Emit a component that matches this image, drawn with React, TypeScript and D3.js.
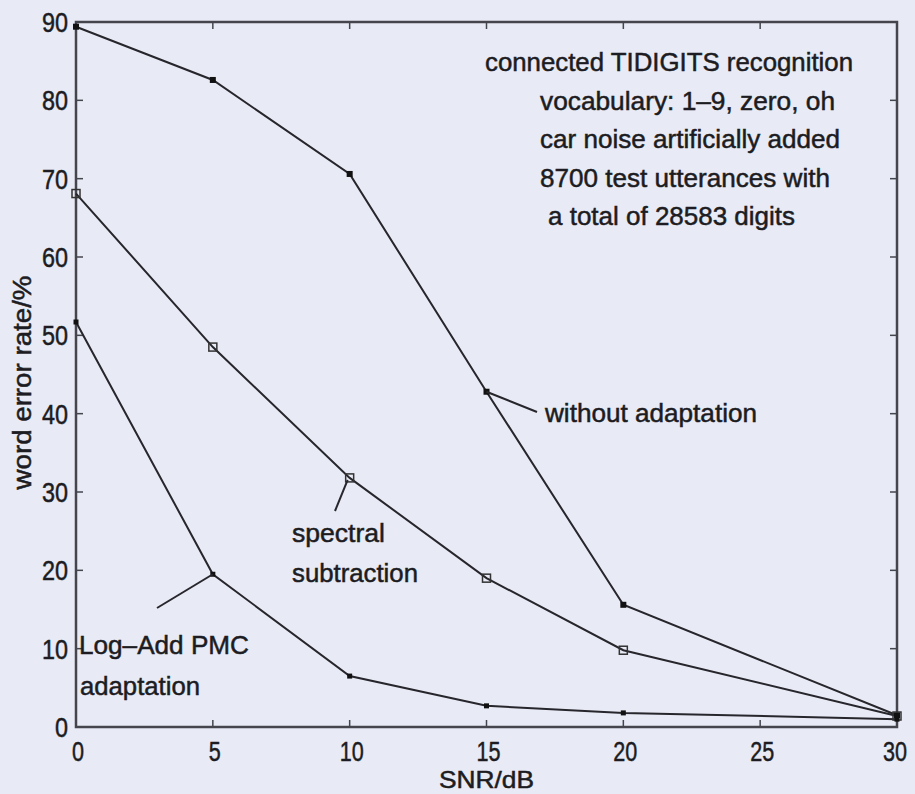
import React from 'react';
import * as d3 from 'd3';

// SNR levels (dB)
const snr = [0, 5, 10, 15, 20, 30];
// word error rate (%) per series
const withoutAdaptation = [89.4, 82.6, 70.6, 42.8, 15.6, 1.5];
const spectralSubtraction = [68.1, 48.5, 31.8, 19.0, 9.8, 1.4];
const logAddPMC = [51.7, 19.5, 6.5, 2.7, 1.8, 1.0];

const xTicks = [0, 5, 10, 15, 20, 25, 30];
const yTicks = [0, 10, 20, 30, 40, 50, 60, 70, 80, 90];

const infoLines = [
  'connected TIDIGITS recognition',
  'vocabulary: 1\u20139, zero, oh',
  'car noise artificially added',
  '8700 test utterances with',
  'a total of 28583 digits',
];

const W = 915;
const H = 794;
const margin = { top: 22, right: 18, bottom: 67, left: 76 };
const FONT = "'Liberation Sans', Arial, sans-serif";
const INK = '#26262c';

function App() {
  const x = d3.scaleLinear().domain([0, 30]).range([margin.left, W - margin.right]);
  const y = d3.scaleLinear().domain([0, 90]).range([H - margin.bottom, margin.top]);

  const line = d3
    .line<number>()
    .x((_, i) => x(snr[i]))
    .y((d) => y(d));

  const x0 = x(0), x1 = x(30), y0 = y(0), y1 = y(90);

  // point the callout leaders start from
  const pWithout = [x(snr[3]), y(withoutAdaptation[3])];
  const pSpectral = [x(snr[2]), y(spectralSubtraction[2])];
  const pPMC = [x(snr[1]), y(logAddPMC[1])];

  const txt = (props: any, s: string, len?: number) => (
    <text
      fontFamily={FONT}
      fill="#1c1c22"
      stroke="#1c1c22"
      strokeWidth={0.5}
      {...props}
      {...(len ? { textLength: len, lengthAdjust: 'spacingAndGlyphs' } : {})}
    >
      {s}
    </text>
  );

  return (
    <svg
      width={W}
      height={H}
      style={{ position: 'absolute', left: 0, top: 0, background: '#e8eaf5' }}
    >
      <rect width={W} height={H} fill="#e8eaf5" />

      {/* frame */}
      <rect x={x0} y={y1} width={x1 - x0} height={y0 - y1} fill="none" stroke="#45454d" strokeWidth={2.5} />

      {/* ticks, inward */}
      {yTicks.map((t) => (
        <g key={'y' + t}>
          <line x1={x0} x2={x0 + 7} y1={y(t)} y2={y(t)} stroke="#45454d" strokeWidth={1.5} />
          <line x1={x1} x2={x1 - 7} y1={y(t)} y2={y(t)} stroke="#45454d" strokeWidth={1.5} />
          {txt(
            { x: x0 - 8, y: y(t), dy: '0.36em', textAnchor: 'end', fontSize: 28 },
            String(t),
            String(t).length * 13
          )}
        </g>
      ))}
      {xTicks.map((t) => (
        <g key={'x' + t}>
          <line x1={x(t)} x2={x(t)} y1={y0} y2={y0 - 7} stroke="#45454d" strokeWidth={1.5} />
          <line x1={x(t)} x2={x(t)} y1={y1} y2={y1 + 7} stroke="#45454d" strokeWidth={1.5} />
          {txt(
            { x: x(t) + (t === 30 ? -2 : 2), y: y0 + 34, textAnchor: 'middle', fontSize: 28 },
            String(t),
            String(t).length * 12
          )}
        </g>
      ))}

      {/* axis titles */}
      {txt({ x: x(15), y: H - 6, textAnchor: 'middle', fontSize: 24 }, 'SNR/dB', 95)}
      {txt(
        { transform: `translate(31,${(y0 + y1) / 2 + 8}) rotate(-90)`, textAnchor: 'middle', fontSize: 25 },
        'word error rate/%',
        214
      )}

      {/* series */}
      <path d={line(withoutAdaptation) || ''} fill="none" stroke={INK} strokeWidth={2} />
      <path d={line(spectralSubtraction) || ''} fill="none" stroke={INK} strokeWidth={2} />
      <path d={line(logAddPMC) || ''} fill="none" stroke={INK} strokeWidth={2} />

      {withoutAdaptation.map((v, i) => (
        <rect key={'w' + i} x={x(snr[i]) - 3} y={y(v) - 3} width={6} height={6} fill="#111" />
      ))}
      {spectralSubtraction.map((v, i) => (
        <rect key={'s' + i} x={x(snr[i]) - 4} y={y(v) - 4} width={8} height={8} fill="none" stroke="#333" strokeWidth={1.5} />
      ))}
      {logAddPMC.map((v, i) => (
        <rect key={'p' + i} x={x(snr[i]) - 2.5} y={y(v) - 2.5} width={5} height={5} fill="#111" />
      ))}

      {/* callouts */}
      <line x1={pWithout[0]} y1={pWithout[1]} x2={537} y2={412} stroke={INK} strokeWidth={2} />
      {txt({ x: 545, y: 422, fontSize: 26 }, 'without adaptation', 212)}

      <line x1={pSpectral[0] - 2} y1={pSpectral[1] + 2} x2={335} y2={511} stroke={INK} strokeWidth={2} />
      {txt({ x: 292, y: 542, fontSize: 26 }, 'spectral', 93)}
      {txt({ x: 292, y: 582, fontSize: 26 }, 'subtraction', 126)}

      <line x1={pPMC[0]} y1={pPMC[1]} x2={157} y2={608} stroke={INK} strokeWidth={2} />
      {txt({ x: 79, y: 654, fontSize: 26 }, 'Log\u2013Add PMC', 170)}
      {txt({ x: 80, y: 695, fontSize: 26 }, 'adaptation', 120)}

      {/* info block */}
      {infoLines.map((s, i) => {
        const xs = [485, 540, 540, 540, 548];
        const ws = [368, 295, 300, 290, 247];
        return (
          <g key={'i' + i}>{txt({ x: xs[i], y: 71 + i * 38.5, fontSize: 26 }, s, ws[i])}</g>
        );
      })}
    </svg>
  );
}

export default App;
